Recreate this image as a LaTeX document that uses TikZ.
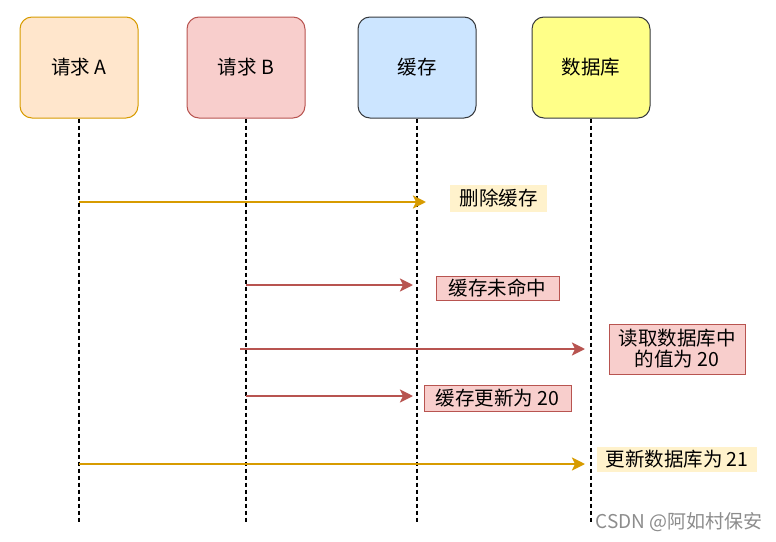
\documentclass[tikz,border=0pt]{standalone}
\usepackage{fontspec}
\setmainfont{Noto Sans CJK SC}
\usetikzlibrary{arrows.meta}
\definecolor{oFill}{HTML}{FFE6CC}
\definecolor{oLine}{HTML}{D79B00}
\definecolor{rFill}{HTML}{F8CECC}
\definecolor{rLine}{HTML}{B85450}
\definecolor{bFill}{HTML}{CCE5FF}
\definecolor{yFill}{HTML}{FFFF88}
\definecolor{yLine}{HTML}{36393D}
\definecolor{lFill}{HTML}{FFF2CC}
\tikzset{
  actor/.style={draw, line width=1pt, rounded corners=12pt, minimum width=118pt, minimum height=101pt, font=\fontsize{19.5}{22}\selectfont, inner sep=0pt},
  life/.style={black, line width=1.2pt, dash pattern=on 4pt off 3pt},
  msgA/.style={oLine, line width=2.5pt, -{Stealth[length=13pt,width=13pt,inset=3pt]}},
  msgB/.style={rLine, line width=2.5pt, -{Stealth[length=13pt,width=13pt,inset=3pt]}},
  lblA/.style={fill=lFill, font=\fontsize{19.5}{22}\selectfont, inner sep=0pt},
  lblB/.style={fill=rFill, draw=rLine, line width=1pt, font=\fontsize{19.5}{22}\selectfont, inner sep=0pt, align=center}
}
\begin{document}
\begin{tikzpicture}[x=1pt,y=-1pt]
\useasboundingbox (0,0) rectangle (776,541);
\node[actor, fill=oFill, draw=oLine] (A) at (79,67.5) {请求 A};
\node[actor, fill=rFill, draw=rLine] (B) at (246,67.5) {请求 B};
\node[actor, fill=bFill, draw=yLine] (C) at (417,67.5) {缓存};
\node[actor, fill=yFill, draw=yLine] (D) at (591,67.5) {数据库};
\coordinate (Ae) at (79,522);
\coordinate (Be) at (246,522);
\coordinate (Ce) at (417,522);
\coordinate (De) at (591,522);
\draw[life] (A.south) -- (Ae);
\draw[life] (B.south) -- (Be);
\draw[life] (C.south) -- (Ce);
\draw[life] (D.south) -- (De);
% messages
\coordinate (a1) at (79,202); \coordinate (c1) at (426,202);
\draw[msgA] (a1) -- (c1);
\node[lblA, minimum width=97pt, minimum height=27pt] (l1) at (498.5,198.5) {删除缓存};
\coordinate (b2) at (246,285); \coordinate (c2) at (413,285);
\draw[msgB] (b2) -- (c2);
\node[lblB, minimum width=123pt, minimum height=24pt] (l2) at (497.5,288) {缓存未命中};
\coordinate (b3) at (240,349); \coordinate (d3) at (585,349);
\draw[msgB] (b3) -- (d3);
\node[lblB, minimum width=136pt, minimum height=50pt] (l3) at (677,349) {读取数据库中\\[-1pt]的值为 20};
\coordinate (b4) at (246,396); \coordinate (c4) at (413,396);
\draw[msgB] (b4) -- (c4);
\node[lblB, minimum width=147pt, minimum height=26pt] (l4) at (497.5,398) {缓存更新为 20};
\coordinate (a5) at (79,464); \coordinate (d5) at (585,464);
\draw[msgA] (a5) -- (d5);
\node[lblA, minimum width=160pt, minimum height=25pt] (l5) at (677,459.5) {更新数据库为 21};
\node[text=black!45, font=\fontsize{19}{21}\selectfont, anchor=east, inner sep=0pt] (wm) at (763,522) {CSDN @阿如村保安};
\end{tikzpicture}
\end{document}
